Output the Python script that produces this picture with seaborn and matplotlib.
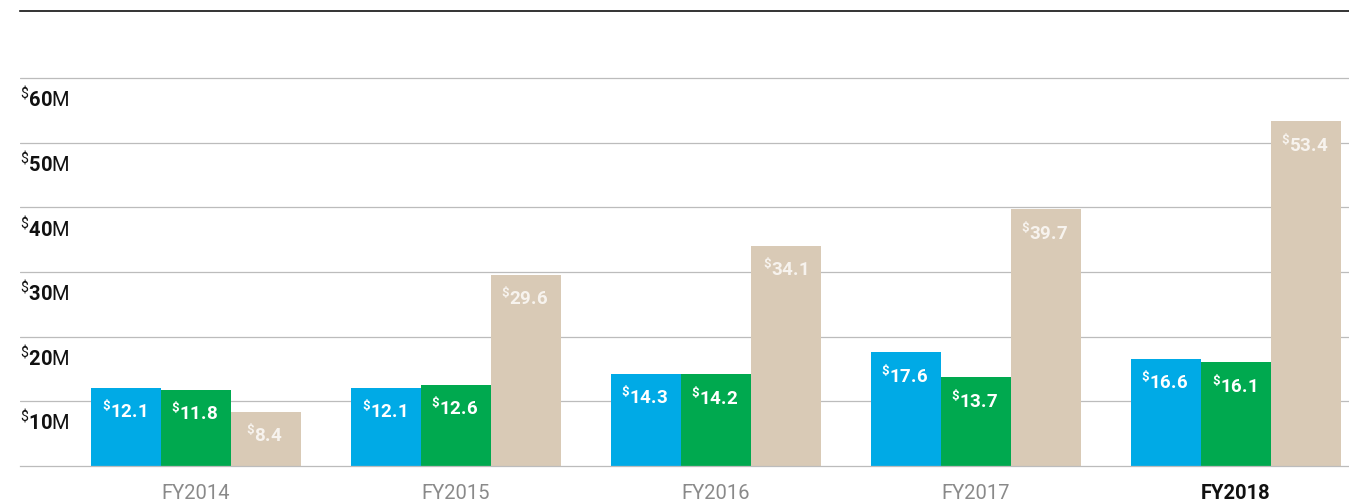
import matplotlib
matplotlib.use("Agg")
import matplotlib.pyplot as plt
import pandas as pd
import seaborn as sns

# values in $M
years = ["FY2014", "FY2015", "FY2016", "FY2017", "FY2018"]
series = ["Series A", "Series B", "Series C"]
series_a = [12.1, 12.1, 14.3, 17.6, 16.6]
series_b = [11.8, 12.6, 14.2, 13.7, 16.1]
series_c = [8.4, 29.6, 34.1, 39.7, 53.4]
y_ticks = [10, 20, 30, 40, 50, 60]

COLORS = ["#00aae6", "#00a94f", "#d9cab6"]
LABEL_COLORS = ["#ffffff", "#ffffff", "#f7f3ee"]

df = pd.DataFrame({
    "year": years * 3,
    "series": [s for s in series for _ in years],
    "value": series_a + series_b + series_c,
})

sns.set_style("white")
plt.rcParams["font.family"] = ["Roboto", "DejaVu Sans"]
plt.rcParams["mathtext.fontset"] = "custom"
plt.rcParams["mathtext.rm"] = "Roboto"
plt.rcParams["mathtext.bf"] = "Roboto:bold"

fig = plt.figure(figsize=(13.49, 5.04), dpi=100)
ax = fig.add_axes([20 / 1349, 38 / 504, 1329 / 1349, 455 / 504])

sns.barplot(
    data=df, x="year", y="value", hue="series", order=years, hue_order=series,
    palette=COLORS, width=0.81, gap=0, saturation=1, legend=False, ax=ax,
    linewidth=0,
)

ax.set_xlim(-0.677, 4.435)
ax.set_ylim(0, 70.4)

# gridlines
for v in y_ticks:
    ax.axhline(v, color="#bcbcbc", lw=0.9, zorder=0)
ax.set_yticks([])

for side in ["left", "right"]:
    ax.spines[side].set_visible(False)
ax.spines["top"].set_color("#111111")
ax.spines["top"].set_linewidth(1.2)
ax.spines["bottom"].set_color("#bcbcbc")
ax.spines["bottom"].set_linewidth(0.9)

# y labels sit just below each gridline
for v in y_ticks:
    ax.annotate(
        r"$\mathrm{{}^{\$}}\mathbf{%d}\mathrm{M}$" % v,
        xy=(0, v), xycoords=("axes fraction", "data"),
        xytext=(0, -5.5), textcoords="offset points",
        ha="left", va="top", fontsize=14.5, color="#111111",
    )

# bar value labels
for container, color in zip(ax.containers, LABEL_COLORS):
    for bar in container:
        h = bar.get_height()
        ax.annotate(
            r"$\mathbf{{}^{\$}%.1f}$" % h,
            xy=(bar.get_x() + bar.get_width() / 2, h),
            xytext=(-1, -16.5), textcoords="offset points",
            ha="center", va="center", fontsize=13.5, color=color,
        )

ax.set_xlabel("")
ax.set_ylabel("")
ax.tick_params(axis="x", length=0, pad=13, labelsize=14.5, labelcolor="#8a8a8a")
for lbl in ax.get_xticklabels():
    if lbl.get_text() == "FY2018":
        lbl.set_color("#111111")
        lbl.set_fontweight("bold")

fig.savefig("out.png", dpi=100, facecolor="white")
